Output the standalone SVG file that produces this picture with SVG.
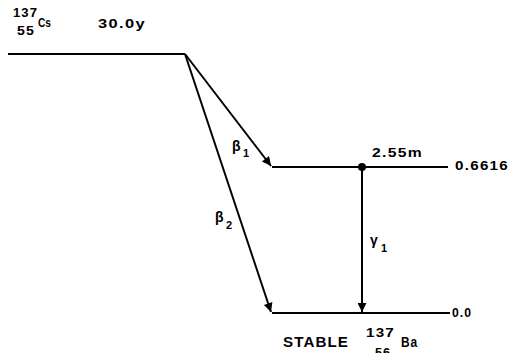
<svg xmlns="http://www.w3.org/2000/svg" width="510" height="353" viewBox="0 0 510 353">
<defs>
<marker id="ah2" viewBox="0 0 10 10" refX="10" refY="5" markerWidth="14" markerHeight="9" orient="auto" markerUnits="userSpaceOnUse">
<path d="M0,0 L10,5 L0,10 z" fill="#000"/>
</marker>
</defs>
<style>
.lv{stroke:#000;stroke-width:2;fill:none}
.ar{stroke:#000;stroke-width:2;fill:none;marker-end:url(#ah2)}
text{font-family:"Liberation Sans",Arial,sans-serif;fill:#000;font-weight:bold;letter-spacing:1px}
.t{font-size:12px}
.b{font-size:14px}
.s{font-size:12.5px}
.g{font-size:14px;letter-spacing:0}
.sub{font-size:11px}
</style>
<rect width="510" height="353" fill="#fff"/>
<g id="cs137">
<line class="lv" x1="8" y1="54" x2="185" y2="54"/>
<text class="s" x="13" y="17" textLength="25" lengthAdjust="spacingAndGlyphs">137</text>
<text class="s" x="17" y="35" textLength="18" lengthAdjust="spacingAndGlyphs">55</text>
<text class="t" x="38" y="27" textLength="13" lengthAdjust="spacingAndGlyphs" style="font-size:13px;letter-spacing:0">Cs</text>
<text class="t" x="98" y="28" textLength="48" lengthAdjust="spacingAndGlyphs">30.0y</text>
</g>
<g id="level1">
<line class="lv" x1="272" y1="167" x2="448" y2="167"/>
<circle cx="362" cy="167" r="4" fill="#000"/>
<text class="t" x="372" y="157" textLength="51" lengthAdjust="spacingAndGlyphs">2.55m</text>
<text class="t" x="455" y="170" textLength="54" lengthAdjust="spacingAndGlyphs">0.6616</text>
</g>
<g id="ba137">
<line class="lv" x1="272" y1="313" x2="450" y2="313"/>
<text class="t" x="452" y="317" textLength="20" lengthAdjust="spacingAndGlyphs">0.0</text>
<text class="b" x="283" y="347" textLength="66" lengthAdjust="spacingAndGlyphs">STABLE</text>
<text class="s" x="366" y="337" textLength="29" lengthAdjust="spacingAndGlyphs">137</text>
<text class="s" x="375" y="357" textLength="16" lengthAdjust="spacingAndGlyphs">56</text>
<text class="b" x="401" y="347" textLength="17" lengthAdjust="spacingAndGlyphs">Ba</text>
</g>
<g id="connectors">
<line class="ar" x1="185" y1="54" x2="271" y2="166"/>
<line class="ar" x1="185" y1="54" x2="271" y2="312"/>
<line class="ar" x1="362" y1="167" x2="362" y2="312"/>
<text class="g" x="232" y="151">β<tspan class="sub" x="243" y="157">1</tspan></text>
<text class="g" x="215" y="222">β<tspan class="sub" x="226" y="229">2</tspan></text>
<text class="g" x="370" y="245">γ<tspan class="sub" x="381" y="252">1</tspan></text>
</g>
</svg>
